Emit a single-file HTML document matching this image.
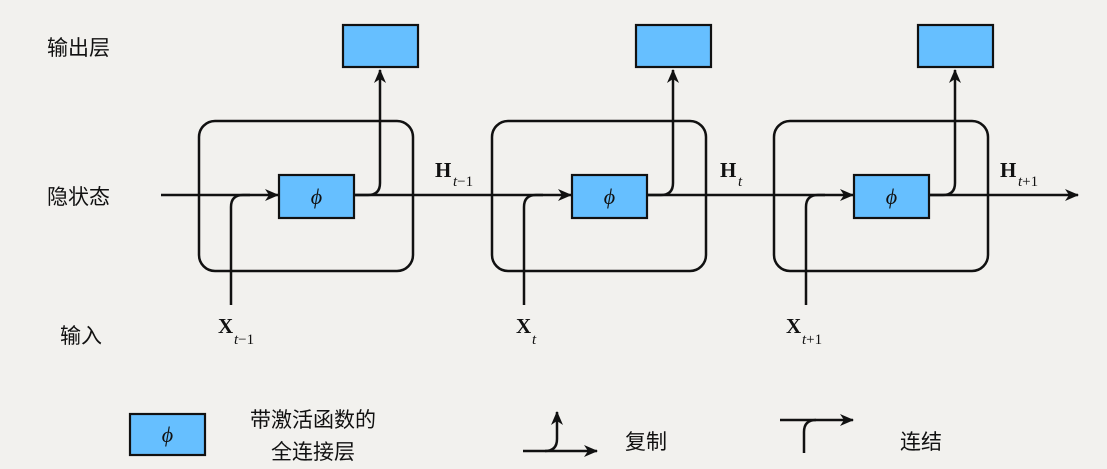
<!DOCTYPE html>
<html><head><meta charset="utf-8"><style>
html,body{margin:0;padding:0;background:#f2f1ee;}
svg{display:block}
.cn{font-family:"Liberation Sans","Noto Sans CJK SC",sans-serif;font-size:21px;fill:#111}
.m{font-family:"Liberation Serif",serif;fill:#111}
</style></head><body>
<svg width="1107" height="469" viewBox="0 0 1107 469" xmlns="http://www.w3.org/2000/svg">
<defs>
<marker id="a" markerWidth="14" markerHeight="12" refX="13" refY="6" orient="auto" markerUnits="userSpaceOnUse">
<path d="M0,0 L14,6 L0,12 L4,6 Z" fill="#111"/></marker>
</defs>
<rect width="1107" height="469" fill="#f2f1ee"/>
<text class="cn" x="47" y="55">输出层</text>
<text class="cn" x="47" y="204">隐状态</text>
<text class="cn" x="60" y="343">输入</text>
<g stroke="#111" stroke-width="2.5" fill="none">
<line x1="161" y1="195" x2="278" y2="195" marker-end="url(#a)"/>
<line x1="354" y1="195" x2="571" y2="195" marker-end="url(#a)"/>
<line x1="647" y1="195" x2="853" y2="195" marker-end="url(#a)"/>
<line x1="929" y1="195" x2="1078" y2="195" marker-end="url(#a)"/>
</g>
<g id="c1">
<rect x="199" y="121" width="214" height="150" rx="16" fill="none" stroke="#111" stroke-width="2.5"/>
<rect x="279" y="175" width="75" height="43" fill="#66bfff" stroke="#111" stroke-width="2.2"/>
<text class="m" x="316.5" y="204" font-size="22" font-style="italic" text-anchor="middle">ϕ</text>
<rect x="343" y="25" width="75" height="42" fill="#66bfff" stroke="#111" stroke-width="2.2"/>
<path d="M355 195 L368 195 Q380 195 380 183 L380 70" fill="none" stroke="#111" stroke-width="2.5" marker-end="url(#a)"/>
<path d="M231 305 L231 207 Q231 195 243 195 L250 195" fill="none" stroke="#111" stroke-width="2.5"/>
</g>
<use href="#c1" x="293"/>
<use href="#c1" x="575"/>
<g class="m" font-weight="bold" font-size="21">
<text x="435" y="177">H</text><text x="720" y="177">H</text><text x="1000" y="177">H</text>
<text x="218" y="333">X</text><text x="516" y="333">X</text><text x="786" y="333">X</text>
</g>
<g class="m" font-size="15">
<text x="453" y="186"><tspan font-style="italic">t</tspan>−1</text><text x="738" y="186" font-style="italic">t</text><text x="1018" y="186"><tspan font-style="italic">t</tspan>+1</text>
<text x="234" y="344"><tspan font-style="italic">t</tspan>−1</text><text x="532" y="344" font-style="italic">t</text><text x="802" y="344"><tspan font-style="italic">t</tspan>+1</text>
</g>
<rect x="130" y="414" width="75" height="41" fill="#66bfff" stroke="#111" stroke-width="2.2"/>
<text class="m" x="167.5" y="442" font-size="22" font-style="italic" text-anchor="middle">ϕ</text>
<text class="cn" x="250" y="427" font-size="20">带激活函数的</text>
<text class="cn" x="271" y="459" font-size="20">全连接层</text>
<g stroke="#111" stroke-width="2.5" fill="none">
<line x1="523" y1="451" x2="597" y2="451" marker-end="url(#a)"/>
<path d="M545 451 Q557 451 557 439 L557 412" marker-end="url(#a)"/>
<line x1="780" y1="420" x2="853" y2="420" marker-end="url(#a)"/>
<path d="M804 453 L804 432 Q804 420 816 420"/>
</g>
<text class="cn" x="625" y="449" font-size="20">复制</text>
<text class="cn" x="900" y="449" font-size="20">连结</text>
</svg>
</body></html>
